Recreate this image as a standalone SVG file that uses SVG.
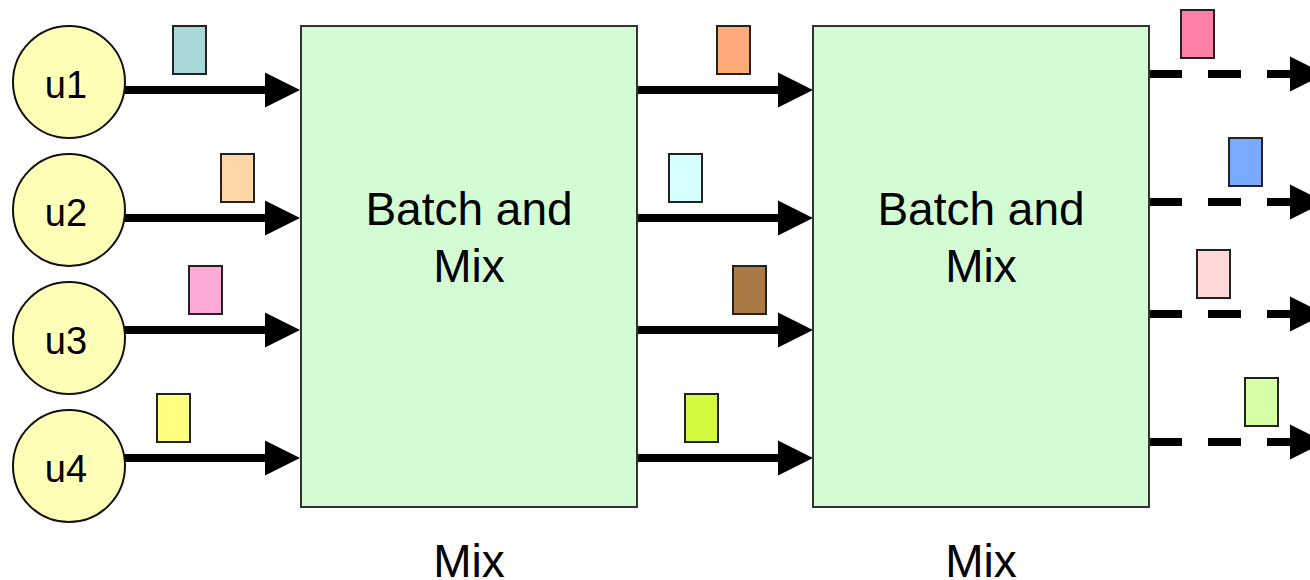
<svg xmlns="http://www.w3.org/2000/svg" width="1310" height="580" viewBox="0 0 1310 580">
<style>
text{font-family:"Liberation Sans",Arial,sans-serif;fill:#000}
.user{fill:#FFFFB8;stroke:#111;stroke-width:2}
.box{fill:#D4FCD4;stroke:#333;stroke-width:2}
.pkt{stroke:#222;stroke-width:2}
.conn{stroke:#000;stroke-width:8;fill:none}
.dash{stroke-dasharray:33 26}
.ulbl{font-size:38px;text-anchor:middle}
.blbl{font-size:46px;text-anchor:middle}
</style>
<defs>
<marker id="ah" markerUnits="userSpaceOnUse" markerWidth="36" markerHeight="36" refX="0" refY="17.5" orient="auto" overflow="visible">
<polygon points="0,0 35,17.5 0,35" fill="#000"/>
</marker>
</defs>
<g id="connectors">
<line class="conn" x1="125" y1="90" x2="265" y2="90" marker-end="url(#ah)"/>
<line class="conn" x1="125" y1="218" x2="265" y2="218" marker-end="url(#ah)"/>
<line class="conn" x1="125" y1="330" x2="265" y2="330" marker-end="url(#ah)"/>
<line class="conn" x1="125" y1="458" x2="265" y2="458" marker-end="url(#ah)"/>
<line class="conn" x1="637" y1="90" x2="778" y2="90" marker-end="url(#ah)"/>
<line class="conn" x1="637" y1="218" x2="778" y2="218" marker-end="url(#ah)"/>
<line class="conn" x1="637" y1="330" x2="778" y2="330" marker-end="url(#ah)"/>
<line class="conn" x1="637" y1="458" x2="778" y2="458" marker-end="url(#ah)"/>
<line class="conn dash" x1="1149" y1="74" x2="1290" y2="74" marker-end="url(#ah)"/>
<line class="conn dash" x1="1149" y1="202" x2="1290" y2="202" marker-end="url(#ah)"/>
<line class="conn dash" x1="1149" y1="314" x2="1290" y2="314" marker-end="url(#ah)"/>
<line class="conn dash" x1="1149" y1="442" x2="1290" y2="442" marker-end="url(#ah)"/>
</g>
<g id="u1"><circle class="user" cx="69" cy="82" r="56"/><text class="ulbl" x="66" y="98">u1</text></g>
<g id="u2"><circle class="user" cx="69" cy="210" r="56"/><text class="ulbl" x="66" y="226">u2</text></g>
<g id="u3"><circle class="user" cx="69" cy="338" r="56"/><text class="ulbl" x="66" y="354">u3</text></g>
<g id="u4"><circle class="user" cx="69" cy="466" r="56"/><text class="ulbl" x="66" y="482">u4</text></g>
<g id="mix1">
<rect class="box" x="301" y="26" width="336" height="481"/>
<text class="blbl" x="469" y="225">Batch and</text>
<text class="blbl" x="469" y="282">Mix</text>
</g>
<g id="mix2">
<rect class="box" x="813" y="26" width="336" height="481"/>
<text class="blbl" x="981" y="225">Batch and</text>
<text class="blbl" x="981" y="282">Mix</text>
</g>
<g id="label-mix1"><text class="blbl" x="469" y="577">Mix</text></g>
<g id="label-mix2"><text class="blbl" x="981" y="577">Mix</text></g>
<g id="packets">
<rect class="pkt" x="173" y="26" width="33" height="48" fill="#A8D8D8"/>
<rect class="pkt" x="221" y="154" width="33" height="48" fill="#FFD6A8"/>
<rect class="pkt" x="189" y="266" width="33" height="48" fill="#FFAAD6"/>
<rect class="pkt" x="157" y="394" width="33" height="48" fill="#FFFF80"/>
<rect class="pkt" x="717" y="26" width="33" height="48" fill="#FFAA78"/>
<rect class="pkt" x="669" y="154" width="33" height="48" fill="#D6FFFF"/>
<rect class="pkt" x="733" y="266" width="33" height="48" fill="#AA7A44"/>
<rect class="pkt" x="685" y="394" width="33" height="48" fill="#D4FA40"/>
<rect class="pkt" x="1181" y="10" width="33" height="48" fill="#FF80A6"/>
<rect class="pkt" x="1229" y="138" width="33" height="48" fill="#7AAAFF"/>
<rect class="pkt" x="1197" y="250" width="33" height="48" fill="#FFD8D8"/>
<rect class="pkt" x="1245" y="378" width="33" height="48" fill="#D6FFA6"/>
</g>
</svg>
